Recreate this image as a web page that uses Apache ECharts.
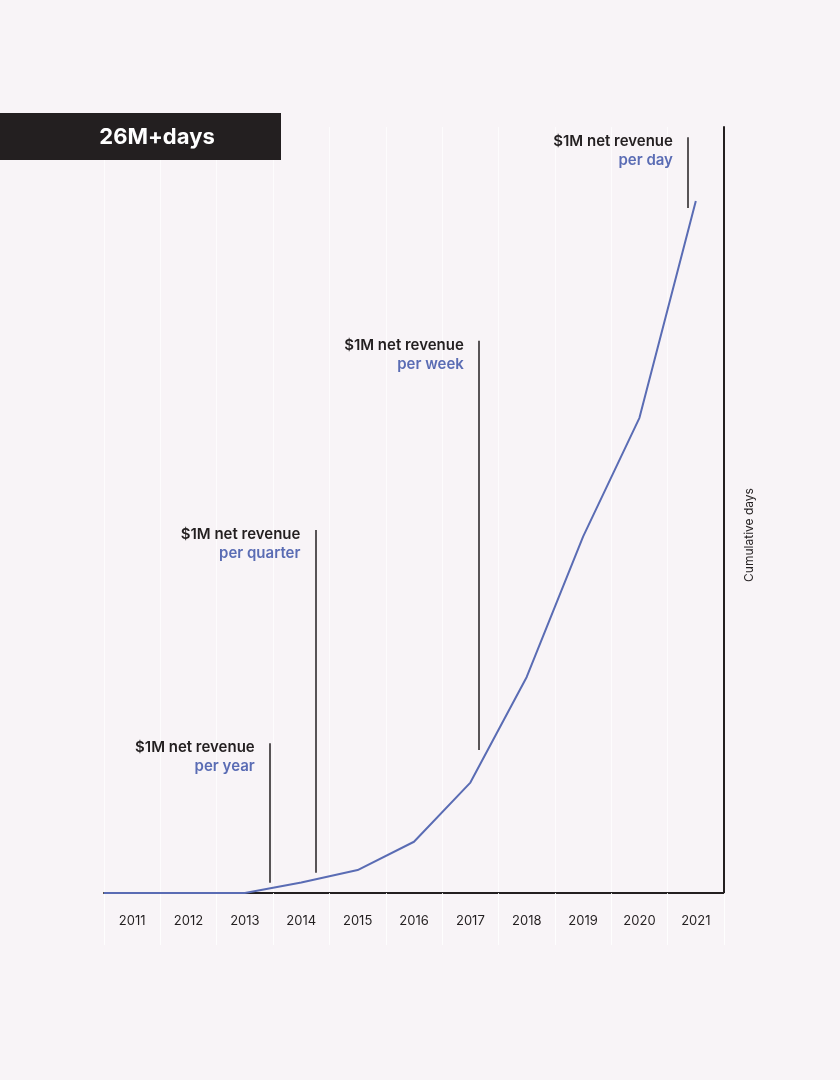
<!DOCTYPE html>
<html>
<head>
<meta charset="utf-8">
<style>
  html, body { margin: 0; padding: 0; background: #f8f4f7; }
  #chart { width: 840px; height: 1080px; }
</style>
<script src="https://cdn.jsdelivr.net/npm/echarts@6/dist/echarts.min.js"></script>
</head>
<body>
<div id="chart"></div>
<script>
// data (cumulative days, millions)
const years = ['2011', '2012', '2013', '2014', '2015', '2016', '2017', '2018', '2019', '2020', '2021']
const periodStart = 2010.5
const cumulativeDays = [0, 0, 0, 0.40, 0.87, 1.94, 4.18, 8.18, 13.49, 17.99, 26.2]

// milestones: $1M net revenue per ...
const milestoneNames = ['per year', 'per quarter', 'per week', 'per day']
const milestoneYears = [2013.44, 2014.25, 2017.15, 2020.86]
const milestoneTops = [5.67, 13.74, 20.91, 28.61]
const milestoneBottoms = [0.39, 0.77, 5.41, 25.93]

const ink = '#231f20'
const blue = '#5a6cb4'
const font = 'Inter'

const chart = echarts.init(document.getElementById('chart'))

const lineData = [[periodStart, 0]].concat(years.map((y, i) => [Number(y), cumulativeDays[i]]))

chart.setOption({
  backgroundColor: '#f8f4f7',
  animation: false,
  textStyle: { fontFamily: font },
  grid: { left: 104, right: 116, top: 127, bottom: 187 },
  xAxis: [{
    type: 'category',
    data: years,
    boundaryGap: true,
    axisLine: { show: true, lineStyle: { color: ink, width: 2 } },
    axisTick: { show: true, interval: 0, length: 52, lineStyle: { color: 'rgba(255,255,255,0.85)', width: 1 } },
    axisLabel: { interval: 0, margin: 22, fontSize: 13, color: ink, fontFamily: font },
    splitLine: { show: true, interval: 0, lineStyle: { color: 'rgba(255,255,255,0.7)', width: 1 } }
  }, {
    type: 'value',
    min: periodStart,
    max: 2021.5,
    show: false
  }],
  yAxis: {
    type: 'value',
    position: 'right',
    min: 0,
    max: 29,
    axisLine: { show: true, lineStyle: { color: ink, width: 2 } },
    axisTick: { show: false },
    axisLabel: { show: false },
    splitLine: { show: false }
  },
  series: [{
    type: 'line',
    xAxisIndex: 1,
    data: lineData,
    symbol: 'none',
    lineStyle: { color: blue, width: 2 },
    z: 5
  }, {
    type: 'lines',
    coordinateSystem: 'cartesian2d',
    xAxisIndex: 1,
    lineStyle: { color: ink, width: 1.5, opacity: 1 },
    data: milestoneNames.map((n, i) => ({
      coords: [[milestoneYears[i], milestoneTops[i]], [milestoneYears[i], milestoneBottoms[i]]]
    })),
    z: 4
  }, {
    type: 'scatter',
    xAxisIndex: 1,
    symbolSize: 0,
    itemStyle: { color: ink, opacity: 1 },
    emphasis: { disabled: true },
    data: milestoneNames.map((n, i) => ({ value: [milestoneYears[i], milestoneTops[i]], name: n })),
    label: {
      show: true,
      position: 'left',
      distance: 15,
      align: 'right',
      verticalAlign: 'top',
      offset: [0, -5],
      formatter: p => '{a|$1M net revenue}\n{b|' + p.name + '}',
      rich: {
        a: { fontSize: 15, fontWeight: 600, color: ink, lineHeight: 19, fontFamily: font, align: 'right' },
        b: { fontSize: 15, fontWeight: 600, color: blue, lineHeight: 19, fontFamily: font, align: 'right' }
      }
    },
    z: 6
  }],
  graphic: [{
    type: 'rect',
    left: 0,
    top: 113,
    z: 100,
    shape: { width: 281, height: 47 },
    style: { fill: ink }
  }, {
    type: 'text',
    x: 157,
    y: 137,
    z: 101,
    style: {
      text: '26M+days',
      fill: '#ffffff',
      font: '700 22px Inter',
      textAlign: 'center',
      textVerticalAlign: 'middle'
    }
  }, {
    type: 'text',
    x: 749,
    y: 535,
    rotation: Math.PI / 2,
    style: {
      text: 'Cumulative days',
      fill: ink,
      font: '12px Inter',
      textAlign: 'center',
      textVerticalAlign: 'middle'
    }
  }]
})
</script>
</body>
</html>
